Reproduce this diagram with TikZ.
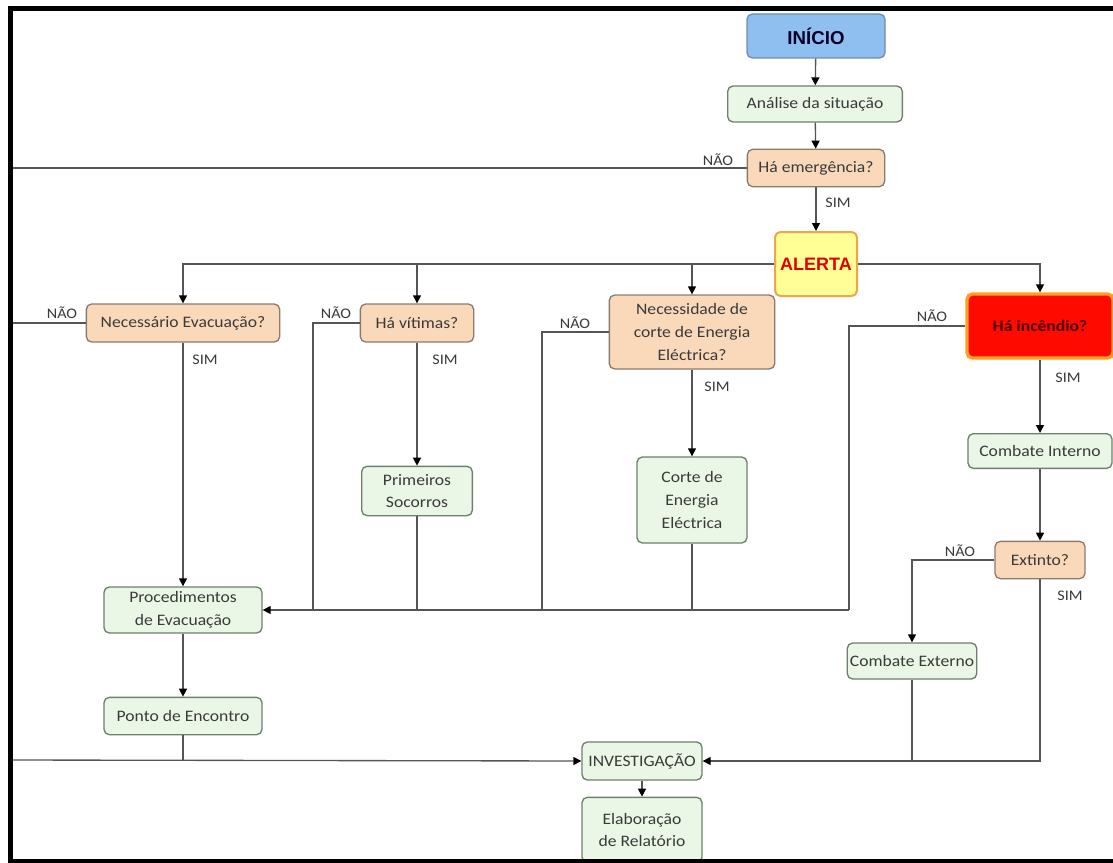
\documentclass[tikz,border=0pt]{standalone}
\usepackage{fontspec}
\setmainfont{Carlito}[FakeStretch=1.1]
\newfontfamily\headfont{Liberation Sans}
\usetikzlibrary{arrows.meta,positioning}
\definecolor{boxgreen}{HTML}{EAF7E6}
\definecolor{edgegreen}{HTML}{6E7F6E}
\definecolor{askfill}{HTML}{FAD9BA}
\definecolor{askedge}{HTML}{8C7B6C}
\definecolor{startblue}{HTML}{8EBFF0}
\definecolor{startedge}{HTML}{6F8DB0}
\definecolor{alertfill}{HTML}{FFFF96}
\definecolor{alertedge}{HTML}{F3A44A}
\definecolor{firered}{HTML}{FF0A00}
\definecolor{fireedge}{HTML}{FFA020}
\definecolor{linegray}{HTML}{555555}
\definecolor{txtgray}{HTML}{3A3A3A}

\begin{document}
\begin{tikzpicture}[x=0.75pt, y=-0.75pt, >={Triangle[length=6pt,width=6pt,color=black]},
  every node/.style={font=\fontsize{12}{17}\selectfont, text=txtgray},
  box/.style={draw=edgegreen, fill=boxgreen, rounded corners=4pt, align=center, inner sep=2pt, line width=1pt},
  ask/.style={box, draw=askedge, fill=askfill},
  lbl/.style={font=\fontsize{11}{13}\selectfont, text=txtgray, inner sep=1pt},
  line/.style={draw=linegray, line width=1pt}]
\useasboundingbox (0,0) rectangle (1113,863);
\node[box, draw=startedge, fill=startblue, minimum width=103.5pt, minimum height=33pt, font=\headfont\bfseries\fontsize{14}{16}\selectfont, text=black!85!blue] (inicio) at (816,36) {INÍCIO};
\node[box, minimum width=131pt, minimum height=27pt] (analise) at (815,104) {Análise da situação};
\node[ask, minimum width=103pt, minimum height=28pt] (emerg) at (816,168) {Há emergência?};
\node[box, draw=alertedge, fill=alertfill, line width=1.5pt, minimum width=61.5pt, minimum height=48pt, font=\headfont\bfseries\fontsize{13.5}{16}\selectfont, text=red!90!black] (alerta) at (816,264) {ALERTA};
\node[ask, minimum width=145pt, minimum height=28.5pt] (evac) at (183,323) {Necessário Evacuação?};
\node[ask, minimum width=85pt, minimum height=28.5pt] (vitimas) at (417,323) {Há vítimas?};
\node[ask, minimum width=124pt, minimum height=55.5pt] (corte) at (692,332) {Necessidade de\\corte de Energia\\Eléctrica?};
\node[box, draw=fireedge, fill=firered, line width=2.5pt, minimum width=109.5pt, minimum height=48pt, font=\bfseries\fontsize{12}{14}\selectfont, text=red!30!black] (incendio) at (1040,326) {Há incêndio?};
\node[box, minimum width=83pt, minimum height=37pt] (socorros) at (417,491) {Primeiros\\Socorros};
\node[box, minimum width=82.5pt, minimum height=64.5pt] (energia) at (692,500) {Corte de\\Energia\\Eléctrica};
\node[box, minimum width=108pt, minimum height=26pt] (interno) at (1040,451) {Combate Interno};
\node[ask, minimum width=67.5pt, minimum height=28pt] (extinto) at (1040,560) {Extinto?};
\node[box, minimum width=94pt, minimum height=27pt] (externo) at (912,661) {Combate Externo};
\node[box, minimum width=118.5pt, minimum height=34.5pt] (procedimentos) at (183,610) {Procedimentos\\de Evacuação};
\node[box, minimum width=118.5pt, minimum height=28pt] (encontro) at (183,716) {Ponto de Encontro};
\node[box, minimum width=90pt, minimum height=28.5pt, inner sep=1pt] (investigacao) at (642,761) {INVESTIGAÇÃO};
\node[box, minimum width=90pt, minimum height=49pt] (relatorio) at (642,830) {Elaboração\\de Relatório};
% junctions
\coordinate (edge) at (10,760);
\coordinate (bus) at (849,610);
\coordinate (vbus) at (313,610);
\coordinate (cbus) at (542,610);
% main line
\draw[line,->] (inicio) -- (analise);
\draw[line,->] (analise) -- (emerg);
\draw[line,->] (emerg) -- (alerta);
\draw[line] (emerg.west) -- (emerg.west -| edge) -- (edge);
\draw[line,->] (edge) -- (investigacao.west);
% alerta branches
\draw[line,->] (alerta.west) -| (evac.north);
\draw[line,->] (alerta.west) -| (vitimas.north);
\draw[line,->] (alerta.west) -| (corte.north);
\draw[line,->] (alerta.east) -| (incendio.north);
% questions
\draw[line] (evac.west) -- (evac.west -| edge);
\draw[line,->] (evac) -- (procedimentos);
\draw[line] (vitimas.west) -| (vbus);
\draw[line,->] (vitimas) -- (socorros);
\draw[line] (socorros.south) -- (socorros.south |- bus);
\draw[line] (corte.west) -| (cbus);
\draw[line,->] (corte) -- (energia);
\draw[line] (energia.south) -- (energia.south |- bus);
\draw[line] (incendio.west) -| (bus);
\draw[line,->] (bus) -- (procedimentos.east);
\draw[line,->] (incendio) -- (interno);
\draw[line,->] (interno) -- (extinto);
\draw[line,->] (extinto.west) -| (externo.north);
\draw[line,->] (extinto.south) |- (investigacao.east);
\draw[line] (externo.south) -- (externo.south |- investigacao.east);
\draw[line,->] (procedimentos) -- (encontro);
\draw[line] (encontro.south) -- (encontro.south |- investigacao.west);
\draw[line,->] (investigacao) -- (relatorio);
% labels
\node[lbl] (n1) at (718,160) {NÃO};
\node[lbl] (s1) at (838,203) {SIM};
\node[lbl] (n2) at (62,313) {NÃO};
\node[lbl] (s2) at (205,360) {SIM};
\node[lbl] (n3) at (336,313) {NÃO};
\node[lbl] (s3) at (445,360) {SIM};
\node[lbl] (n4) at (575,323) {NÃO};
\node[lbl] (s4) at (717,387) {SIM};
\node[lbl] (n5) at (932,316) {NÃO};
\node[lbl] (s5) at (1068,378) {SIM};
\node[lbl] (n6) at (960,551) {NÃO};
\node[lbl] (s6) at (1070,596) {SIM};
% frame
\draw[line width=3.75pt] (1113,9) -- (10,9) -- (10,861) -- (1113,861);
\end{tikzpicture}
\end{document}
